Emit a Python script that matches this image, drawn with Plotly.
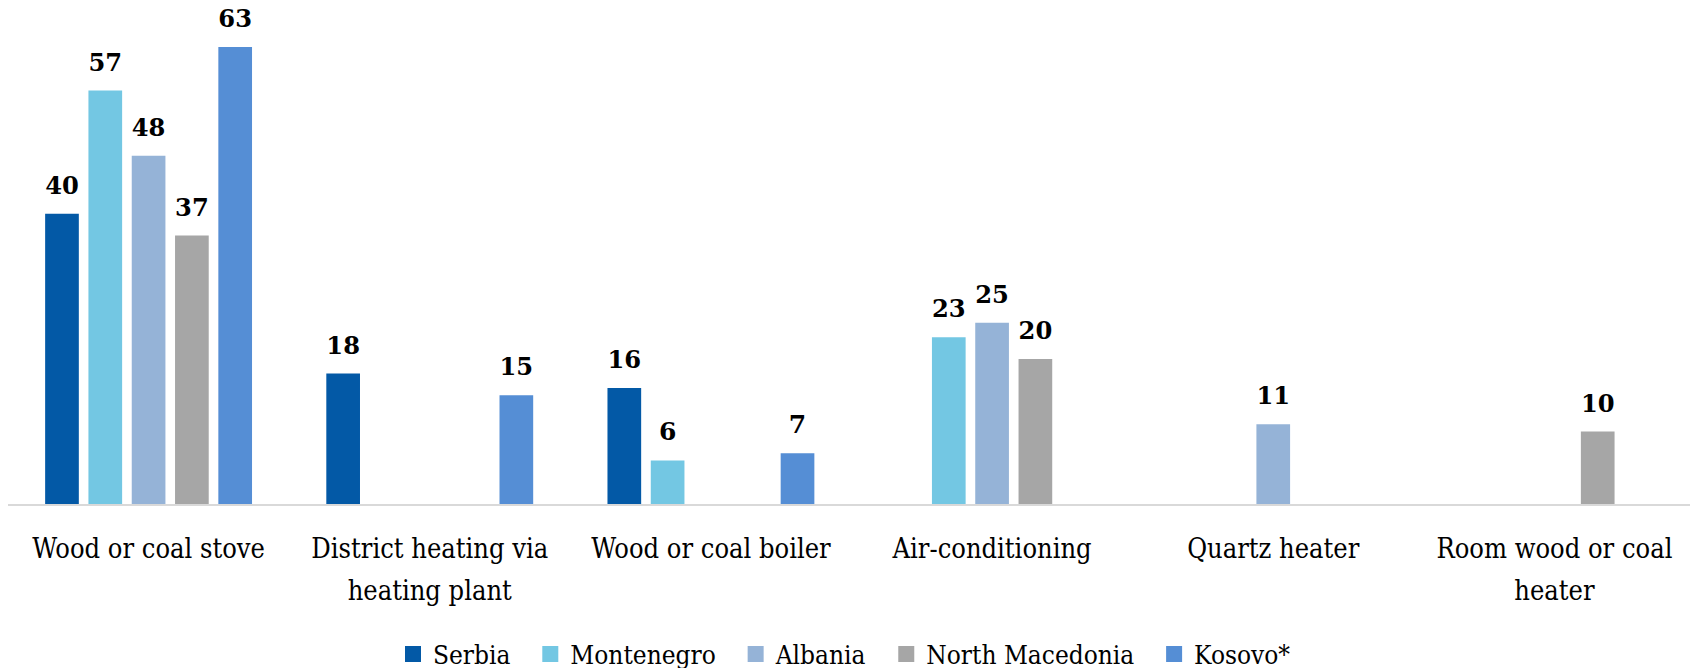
import plotly.graph_objects as go

categories = [
    "Wood or coal stove",
    "District heating via<br>heating plant",
    "Wood or coal boiler",
    "Air-conditioning",
    "Quartz heater",
    "Room wood or coal<br>heater",
]

series_names = ["Serbia", "Montenegro", "Albania", "North Macedonia", "Kosovo*"]
serbia = [40, 18, 16, None, None, None]
montenegro = [57, None, 6, 23, None, None]
albania = [48, None, None, 25, 11, None]
north_macedonia = [37, None, None, 20, None, 10]
kosovo = [63, 15, 7, None, None, None]
series_values = [serbia, montenegro, albania, north_macedonia, kosovo]
colors = ["#0359A6", "#73C7E3", "#95B3D7", "#A6A6A6", "#558ED5"]

SERIF_C = "DejaVu Serif Condensed, DejaVu Serif"

# tick text: glyphs at 27px, line pitch governed by the 32px tick font
ticktext = ["<br>".join("<span style='font-size:27px'>%s</span>" % part for part in c.split("<br>"))
            for c in categories]

fig = go.Figure()
for name, vals, col in zip(series_names, series_values, colors):
    fig.add_trace(go.Bar(
        name=name,
        x=categories,
        y=vals,
        marker=dict(color=col, line=dict(width=0)),
        texttemplate="<span style='font-size:25px'>%{y}</span><br>\u00a0",
        textposition="outside",
        textfont=dict(family="DejaVu Serif", size=11, color="#000000", weight="bold"),
        cliponaxis=False,
        showlegend=False,
    ))
# legend entries (square swatches)
for name, col in zip(series_names, colors):
    fig.add_trace(go.Scatter(
        name=name + "\u00a0\u00a0",
        x=[None],
        y=[None],
        mode="markers",
        marker=dict(symbol="square", size=17, color=col),
        showlegend=True,
        hoverinfo="skip",
    ))

fig.update_layout(
    width=1698,
    height=668,
    barmode="group",
    bargap=0.23,
    bargroupgap=0.222,
    plot_bgcolor="white",
    paper_bgcolor="white",
    margin=dict(l=0, r=11, t=2, b=172, autoexpand=False),
    font=dict(family=SERIF_C, size=26, color="#000000"),
    showlegend=True,
    legend=dict(
        orientation="h",
        x=0.5,
        xanchor="center",
        y=-0.3036,
        yanchor="middle",
        font=dict(family=SERIF_C, size=26, color="#000000"),
        itemsizing="trace",
    ),
)

fig.update_xaxes(
    showline=True,
    linecolor="#D9D9D9",
    linewidth=2,
    ticks="",
    showgrid=False,
    automargin=False,
    tickmode="array",
    tickvals=categories,
    ticktext=ticktext,
    tickfont=dict(family=SERIF_C, size=32, color="#000000"),
    ticklabelstandoff=14,
)
fig.update_yaxes(
    range=[0, 68.1],
    visible=False,
    showgrid=False,
    zeroline=False,
)

fig.write_html("out.html")
